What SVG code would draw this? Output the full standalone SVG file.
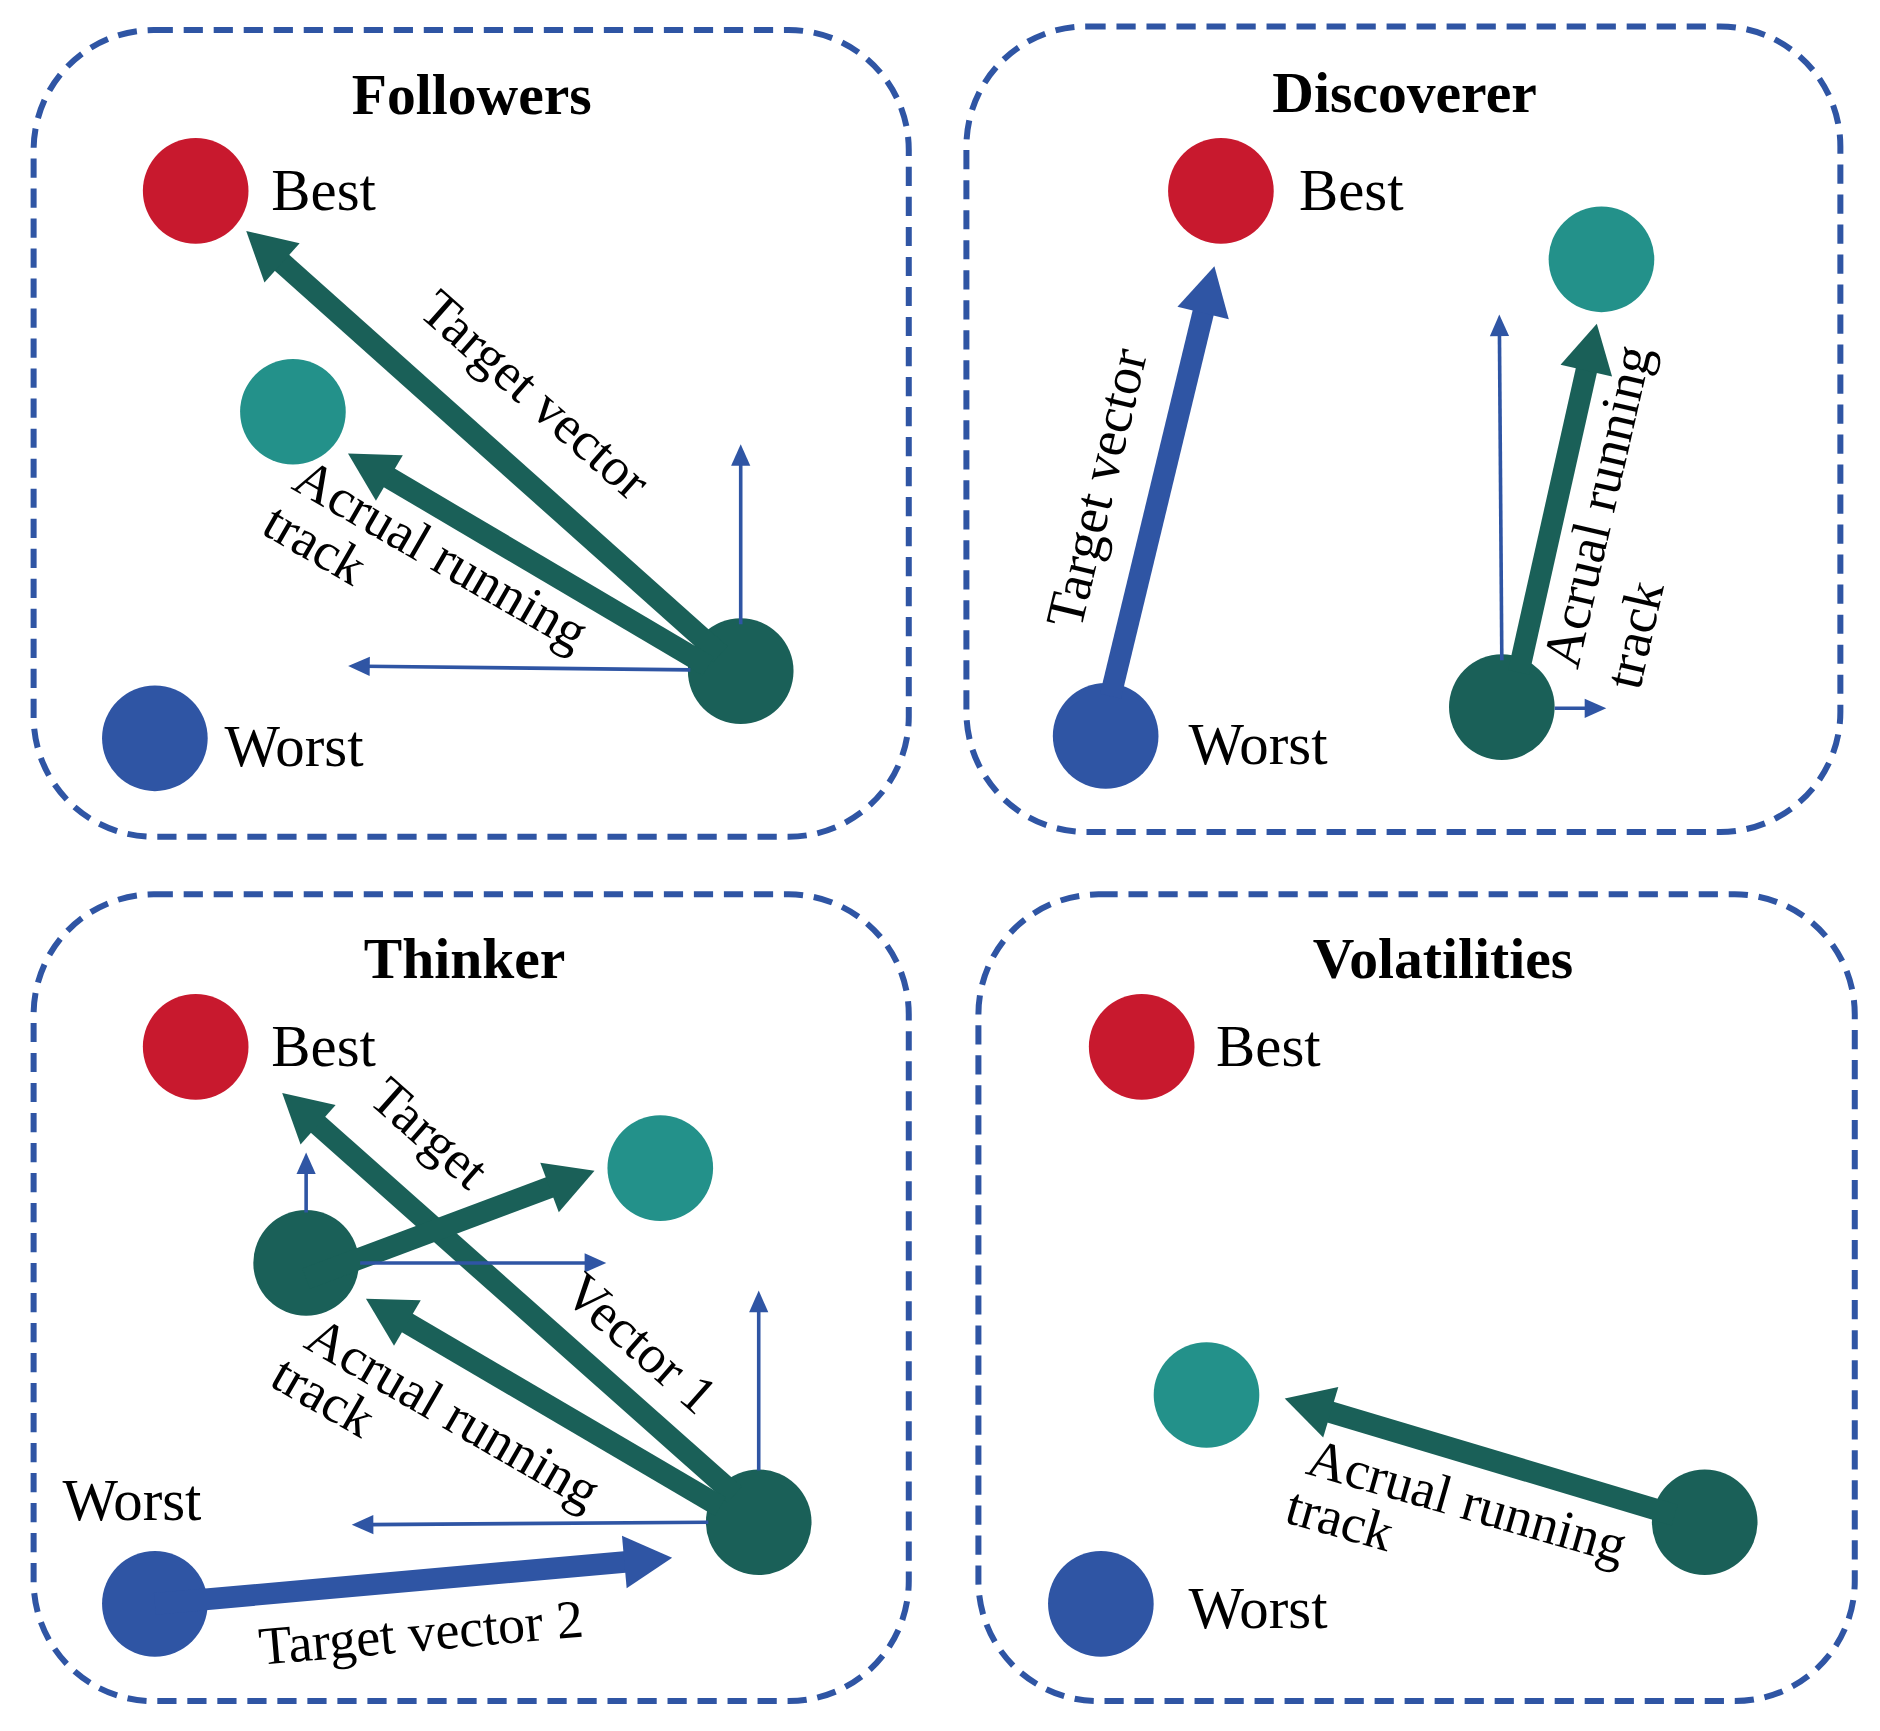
<svg xmlns="http://www.w3.org/2000/svg" width="1880" height="1731" viewBox="0 0 1880 1731">
<style>
.panel{fill:#fff;stroke:#2F55A4;stroke-width:5;stroke-dasharray:16 9}
.t{font-family:"Liberation Serif",serif;font-size:49px;fill:#000}
.title{font-family:"Liberation Serif",serif;font-size:48px;font-weight:bold;text-anchor:middle}
.r{font-family:"Liberation Serif",serif;font-size:45px;text-anchor:middle}
.g{stroke:#1A6058;stroke-width:18;fill:none;marker-end:url(#hg)}
.b{stroke:#2F55A4;stroke-width:18;fill:none;marker-end:url(#hb)}
.thin{stroke:#2F55A4;stroke-width:3;fill:none;marker-end:url(#ht)}
</style>
<defs>
<marker id="hg" markerUnits="userSpaceOnUse" markerWidth="44" markerHeight="44" refX="12" refY="22" orient="auto" overflow="visible"><path d="M0,0 L40,22 L0,44 z" fill="#1A6058"/></marker>
<marker id="hb" markerUnits="userSpaceOnUse" markerWidth="44" markerHeight="44" refX="12" refY="22" orient="auto" overflow="visible"><path d="M0,0 L40,22 L0,44 z" fill="#2F55A4"/></marker>
<marker id="ht" markerUnits="userSpaceOnUse" markerWidth="20" markerHeight="16" refX="4" refY="8" orient="auto" overflow="visible"><path d="M0,0 L18,8 L0,16 z" fill="#2F55A4"/></marker>
</defs>
<g transform="scale(1.2005)">
<g id="followers">
<rect class="panel" x="28" y="25" width="729" height="672" rx="100"/>
<text class="title" x="393" y="95">Followers</text>
<circle cx="163" cy="159" r="44" fill="#C8192E"/><text class="t" x="226" y="175">Best</text>
<circle cx="244" cy="343" r="44" fill="#23918A"/>
<circle cx="129" cy="615" r="44" fill="#2F55A4"/><text class="t" x="187" y="638">Worst</text>
<circle cx="617" cy="559" r="44" fill="#1A6058"/>
</g>
<g id="discoverer">
<rect class="panel" x="805" y="22" width="728" height="671" rx="100"/>
<text class="title" x="1170" y="93">Discoverer</text>
<circle cx="1017" cy="159" r="44" fill="#C8192E"/><text class="t" x="1082" y="175">Best</text>
<circle cx="1334" cy="216" r="44" fill="#23918A"/>
<circle cx="921" cy="613" r="44" fill="#2F55A4"/><text class="t" x="990" y="636">Worst</text>
<circle cx="1251" cy="589" r="44" fill="#1A6058"/>
</g>
<g id="thinker">
<rect class="panel" x="28" y="745" width="729" height="672" rx="100"/>
<text class="title" x="387" y="815">Thinker</text>
<circle cx="163" cy="872" r="44" fill="#C8192E"/><text class="t" x="226" y="888">Best</text>
<circle cx="550" cy="973" r="44" fill="#23918A"/>
<circle cx="255" cy="1052" r="44" fill="#1A6058"/>
<text class="t" x="52" y="1266">Worst</text>
<circle cx="129" cy="1336" r="44" fill="#2F55A4"/>
<circle cx="632" cy="1268" r="44" fill="#1A6058"/>
</g>
<g id="volatilities">
<rect class="panel" x="815" y="745" width="730" height="672" rx="100"/>
<text class="title" x="1202" y="815">Volatilities</text>
<circle cx="951" cy="872" r="44" fill="#C8192E"/><text class="t" x="1013" y="888">Best</text>
<circle cx="1005" cy="1162" r="44" fill="#23918A"/>
<circle cx="917" cy="1336" r="44" fill="#2F55A4"/><text class="t" x="990" y="1356">Worst</text>
<circle cx="1420" cy="1268" r="44" fill="#1A6058"/>
</g>
<g id="connectors">
<line class="g" x1="600" y1="545" x2="226" y2="211"/>
<line class="g" x1="590" y1="555" x2="314" y2="392"/>
<line class="thin" x1="617" y1="520" x2="617" y2="384"/>
<line class="thin" x1="575" y1="558" x2="304" y2="555"/>
<line class="b" x1="925" y1="580" x2="1005" y2="249"/>
<line class="g" x1="1265" y1="560" x2="1324" y2="297"/>
<line class="thin" x1="1251" y1="550" x2="1249" y2="276"/>
<line class="thin" x1="1295" y1="590" x2="1324" y2="590"/>
<line class="g" x1="612" y1="1245" x2="256" y2="929"/>
<line class="g" x1="600" y1="1255" x2="329" y2="1096"/>
<line class="g" x1="255" y1="1065" x2="469" y2="985"/>
<line class="b" x1="129" y1="1336" x2="532" y2="1300"/>
<line class="thin" x1="255" y1="1010" x2="255" y2="974"/>
<line class="thin" x1="300" y1="1052" x2="491" y2="1052"/>
<line class="thin" x1="632" y1="1225" x2="632" y2="1089"/>
<line class="thin" x1="590" y1="1268" x2="307" y2="1270"/>
<line class="g" x1="1395" y1="1262" x2="1097" y2="1173"/>
</g>
<g id="labels">
<text class="r" transform="translate(436,340) rotate(41.4)">Target vector</text>
<text class="r" transform="translate(360,475) rotate(30)">Acrual running</text>
<text class="r" transform="translate(255,466) rotate(30)">track</text>
<text class="r" transform="translate(928,410) rotate(-76.5)">Target vector</text>
<text class="r" transform="translate(1345,425) rotate(-77)">Acrual running</text>
<text class="r" transform="translate(1376,532) rotate(-77)">track</text>
<text class="r" transform="translate(348,955) rotate(41.4)">Target</text>
<text class="r" transform="translate(524,1130) rotate(41.4)">Vector 1</text>
<text class="r" transform="translate(370,1190) rotate(30)">Acrual running</text>
<text class="r" transform="translate(262,1176) rotate(30)">track</text>
<text class="r" transform="translate(352,1375) rotate(-5)">Target vector 2</text>
<text class="r" transform="translate(1218,1265) rotate(16)">Acrual running</text>
<text class="r" transform="translate(1112,1280) rotate(16)">track</text>
</g>
</g>
</svg>
